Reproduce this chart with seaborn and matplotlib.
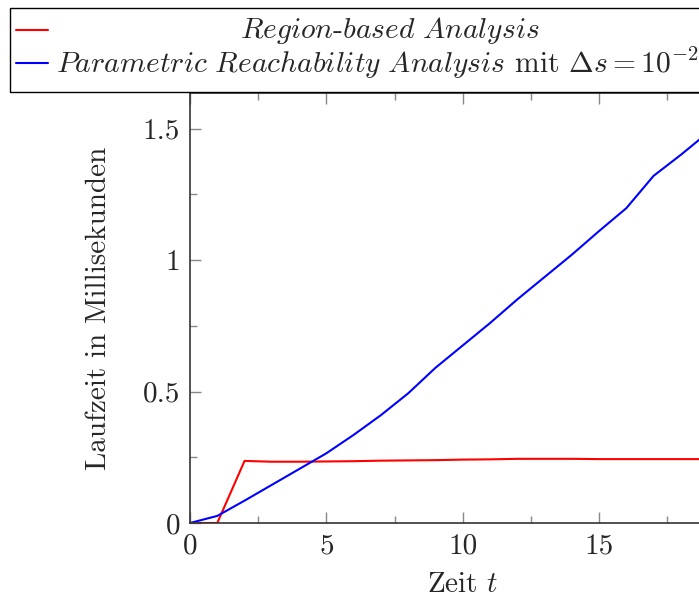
import matplotlib
matplotlib.use("Agg")
import matplotlib.pyplot as plt
import seaborn as sns
import pandas as pd
from matplotlib.ticker import FixedLocator, MultipleLocator, FuncFormatter
from matplotlib.lines import Line2D
from matplotlib.patches import Rectangle

# data
t = list(range(0, 21))
region_based = [0.0, 0.0, 0.236, 0.233, 0.233, 0.234, 0.235, 0.237, 0.238, 0.239, 0.241,
                0.242, 0.244, 0.244, 0.244, 0.243, 0.243, 0.243, 0.243, 0.243, 0.243]
parametric = [0.0, 0.027, 0.085, 0.145, 0.205, 0.265, 0.335, 0.41, 0.493, 0.59, 0.675,
              0.76, 0.85, 0.935, 1.02, 1.11, 1.197, 1.32, 1.40, 1.485, 1.57]
labels = [r"$\mathit{Region\text{-}based\ Analysis}$",
          r"$\mathit{Parametric\ Reachability\ Analysis}$ mit $\Delta s = 10^{-2}$"]
xticks = [0, 5, 10, 15, 20]
xticklabels = ["0", "5", "10", "15", ""]
xlabel = r"Zeit $t$"
ylabel = "Laufzeit in Millisekunden"
colors = ["#ff0000", "#0000ff"]

sns.set_style("ticks")
plt.rcParams["font.family"] = "serif"
plt.rcParams["font.serif"] = ["cmr10", "DejaVu Serif"]
plt.rcParams["mathtext.fontset"] = "cm"
plt.rcParams["axes.formatter.use_mathtext"] = True

FS = 21
W, H = 699, 599
fig = plt.figure(figsize=(W / 100, H / 100), dpi=100)
ax_w = 20 * 27.27
ax = fig.add_axes([190 / W, 76 / H, ax_w / W, 430 / H])

df = pd.DataFrame({"t": t + t, "v": region_based + parametric,
                   "s": [labels[0]] * len(t) + [labels[1]] * len(t)})
sns.lineplot(data=df, x="t", y="v", hue="s", palette=colors,
             linewidth=1.5, ax=ax, legend=False)

ax.set_xlim(0, 20)
ax.set_ylim(0, 1.635)
ax.xaxis.set_major_locator(FixedLocator(xticks))
ax.set_xticklabels(xticklabels)
ax.xaxis.set_minor_locator(MultipleLocator(2.5))
ax.yaxis.set_major_locator(MultipleLocator(0.5))
ax.yaxis.set_minor_locator(MultipleLocator(0.25))
ax.yaxis.set_major_formatter(FuncFormatter(lambda v, p: f"{v:g}"))
ax.tick_params(which="both", direction="in", top=True, right=True, color="#888888",
               labelsize=FS, width=1.0)
ax.tick_params(which="major", length=8, pad=7)
ax.tick_params(which="minor", length=5)
for sp in ax.spines.values():
    sp.set_visible(True)
    sp.set_color("#333333")
    sp.set_linewidth(1.2)
ax.set_xlabel(xlabel, fontsize=FS, labelpad=9)
ax.set_ylabel(ylabel, fontsize=FS, labelpad=22)

# legend box drawn in figure pixel coordinates (box extends past the right edge)
def fx(px):
    return px / W
def fy(py):
    return 1 - py / H

fig.patches.append(Rectangle((fx(10), fy(92)), fx(730) - fx(10), fy(8) - fy(92),
                             transform=fig.transFigure, fill=True, facecolor="white",
                             edgecolor="black", linewidth=1.0, zorder=5))
rows_y = [30, 63]
for i, (lab, c) in enumerate(zip(labels, colors)):
    fig.add_artist(Line2D([fx(16), fx(48)], [fy(rows_y[i])] * 2, color=c, lw=1.5,
                          transform=fig.transFigure, zorder=6))
fig.text(fx(390), fy(rows_y[0]), labels[0], fontsize=21.3, ha="center", va="center",
         zorder=6)
fig.text(fx(56), fy(rows_y[1]), labels[1], fontsize=21.3, ha="left", va="center",
         zorder=6)

fig.savefig("out.png", dpi=100)
